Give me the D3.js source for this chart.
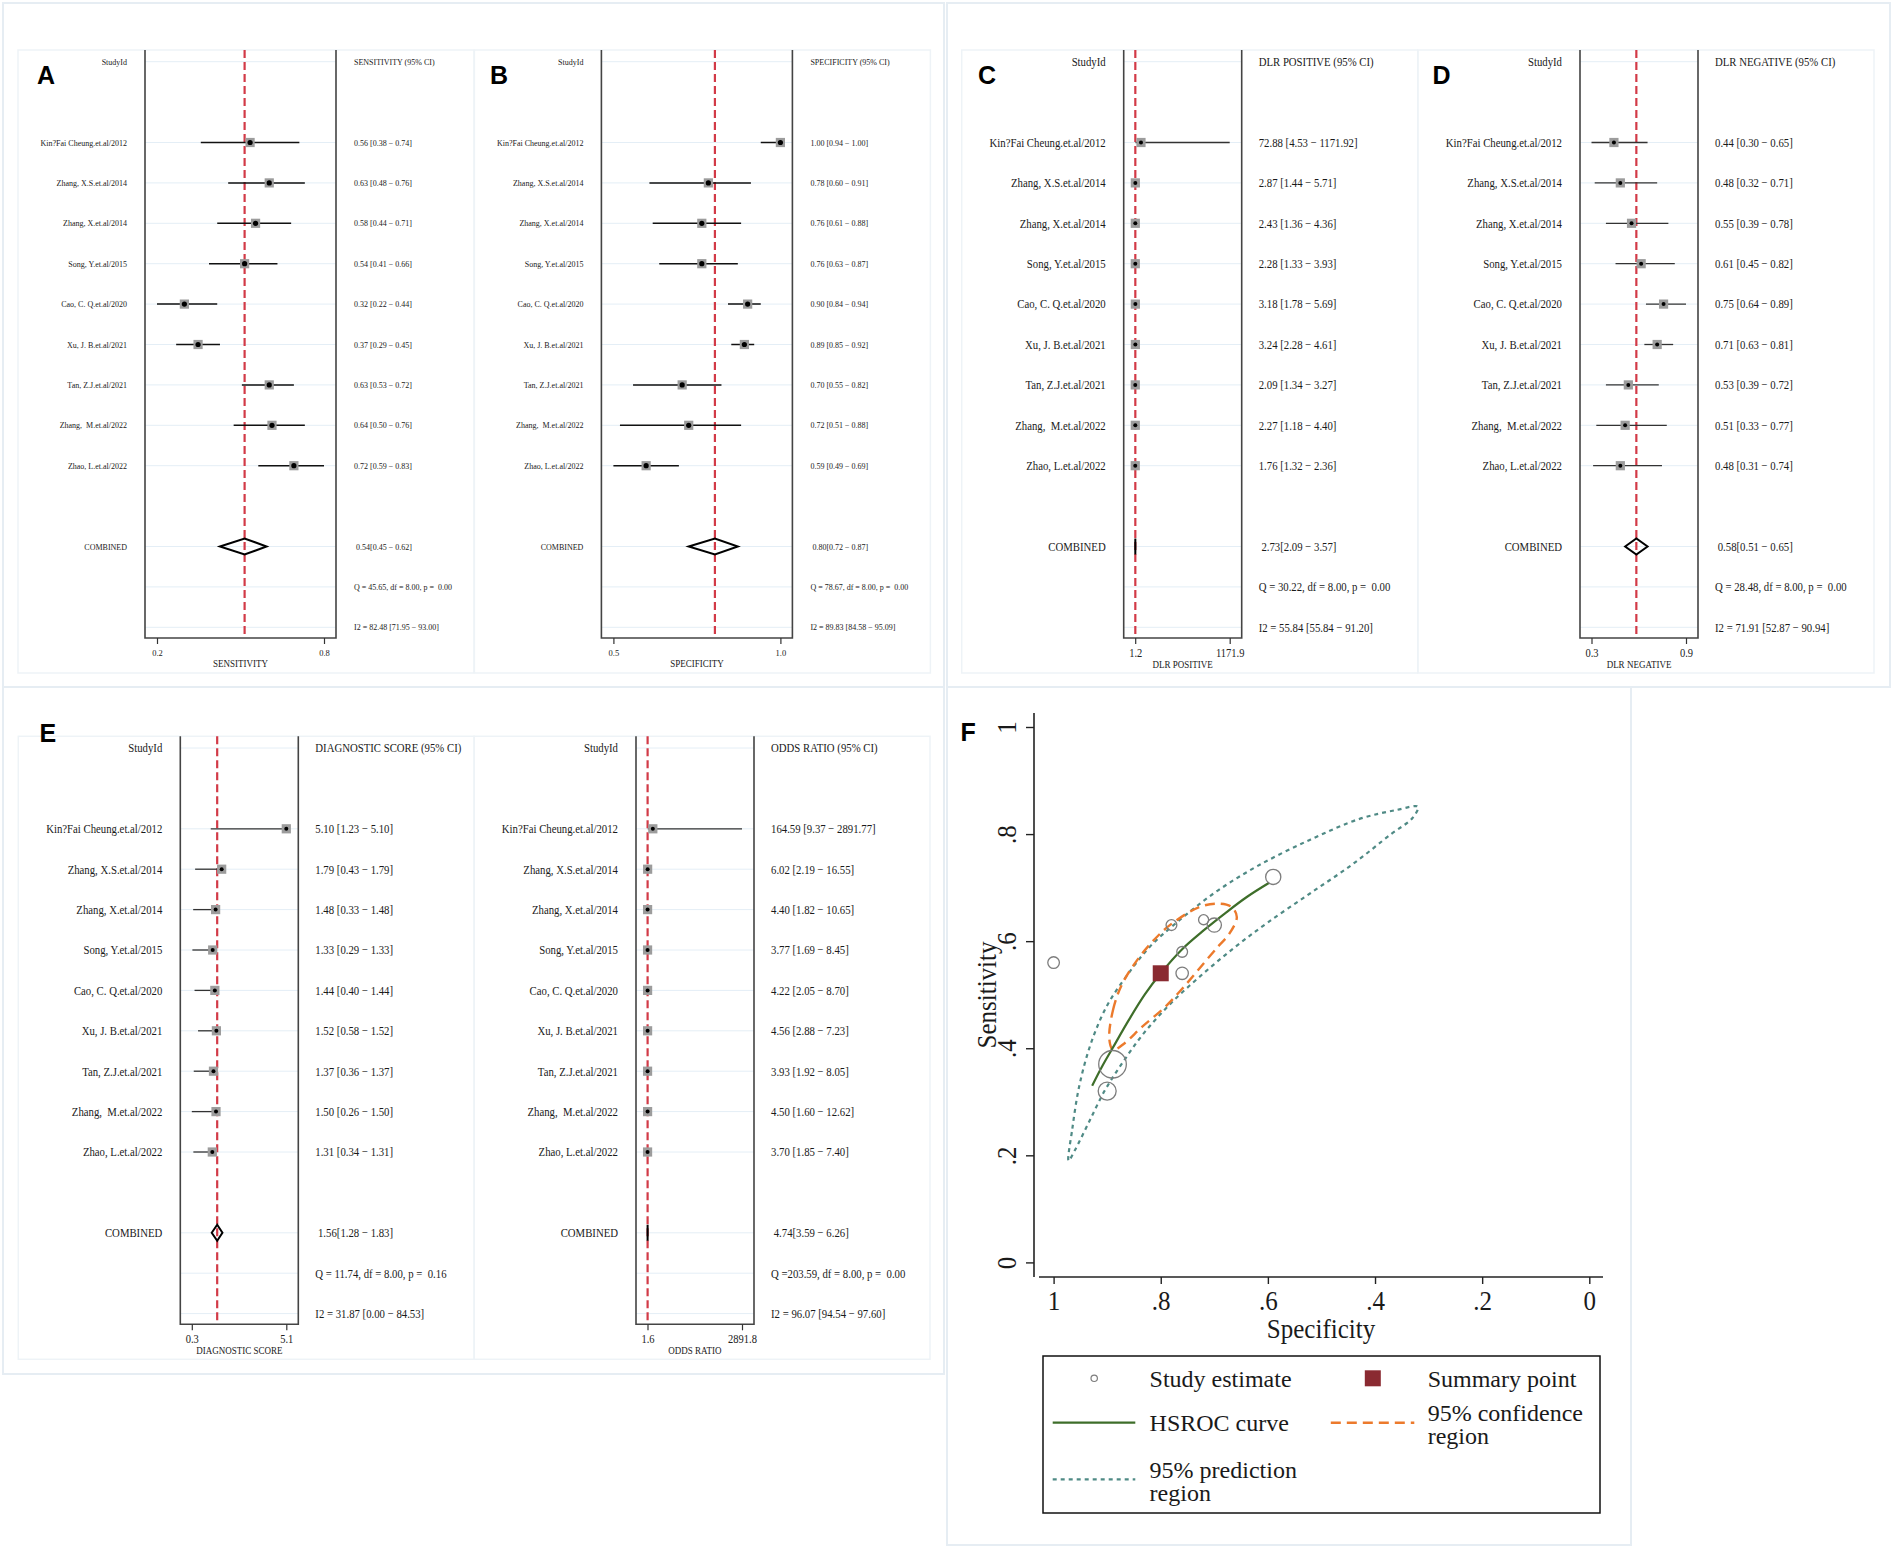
<!DOCTYPE html>
<html><head><meta charset="utf-8">
<script src="https://cdn.jsdelivr.net/npm/d3@7"></script>
<style>
body{margin:0;background:#fff;}
svg text{font-family:"Liberation Serif","Times New Roman",serif;white-space:pre;fill:#1a1a1a;}
svg text.plabel{font-family:"Liberation Sans",Arial,sans-serif;font-weight:bold;fill:#000;}
</style></head><body>
<svg id="c" width="1892" height="1549"></svg>
<script>
// ---------------- DATA ----------------
const studies = ["Kin?Fai Cheung.et.al/2012","Zhang, X.S.et.al/2014","Zhang, X.et.al/2014","Song, Y.et.al/2015","Cao, C. Q.et.al/2020","Xu, J. B.et.al/2021","Tan, Z.J.et.al/2021","Zhang,  M.et.al/2022","Zhao, L.et.al/2022"];

const sensEst = [0.56,0.63,0.58,0.54,0.32,0.37,0.63,0.64,0.72];
const sensLo  = [0.38,0.48,0.44,0.41,0.22,0.29,0.53,0.50,0.59];
const sensHi  = [0.74,0.76,0.71,0.66,0.44,0.45,0.72,0.76,0.83];
const sensComb = [0.54,0.45,0.62];
const sensStats = [45.65,8.00,0.00,82.48,71.95,93.00];

const specEst = [1.00,0.78,0.76,0.76,0.90,0.89,0.70,0.72,0.59];
const specLo  = [0.94,0.60,0.61,0.63,0.84,0.85,0.55,0.51,0.49];
const specHi  = [1.00,0.91,0.88,0.87,0.94,0.92,0.82,0.88,0.69];
const specComb = [0.80,0.72,0.87];
const specStats = [78.67,8.00,0.00,89.83,84.58,95.09];

const dlrpEst = [72.88,2.87,2.43,2.28,3.18,3.24,2.09,2.27,1.76];
const dlrpLo  = [4.53,1.44,1.36,1.33,1.78,2.28,1.34,1.18,1.32];
const dlrpHi  = [1171.92,5.71,4.36,3.93,5.69,4.61,3.27,4.40,2.36];
const dlrpComb = [2.73,2.09,3.57];
const dlrpStats = [30.22,8.00,0.00,55.84,55.84,91.20];

const dlrnEst = [0.44,0.48,0.55,0.61,0.75,0.71,0.53,0.51,0.48];
const dlrnLo  = [0.30,0.32,0.39,0.45,0.64,0.63,0.39,0.33,0.31];
const dlrnHi  = [0.65,0.71,0.78,0.82,0.89,0.81,0.72,0.77,0.74];
const dlrnComb = [0.58,0.51,0.65];
const dlrnStats = [28.48,8.00,0.00,71.91,52.87,90.94];

const dsEst = [5.10,1.79,1.48,1.33,1.44,1.52,1.37,1.50,1.31];
const dsLo  = [1.23,0.43,0.33,0.29,0.40,0.58,0.36,0.26,0.34];
const dsHi  = [5.10,1.79,1.48,1.33,1.44,1.52,1.37,1.50,1.31];
const dsComb = [1.56,1.28,1.83];
const dsStats = [11.74,8.00,0.16,31.87,0.00,84.53];

const orEst = [164.59,6.02,4.40,3.77,4.22,4.56,3.93,4.50,3.70];
const orLo  = [9.37,2.19,1.82,1.69,2.05,2.88,1.92,1.60,1.85];
const orHi  = [2891.77,16.55,10.65,8.45,8.70,7.23,8.05,12.62,7.40];
const orComb = [4.74,3.59,6.26];
const orStats = [203.59,8.00,0.00,96.07,94.54,97.60];

// SROC panel (specificity, sensitivity)
const studyWeight = [71,61,61,81,170,400,106,53,121];
const hsrocCurve = [[0.928,0.330],[0.91,0.365],[0.89,0.400],[0.86,0.452],[0.83,0.500],[0.80,0.540],[0.76,0.585],[0.72,0.620],[0.68,0.652],[0.64,0.682],[0.5975,0.709]];
const confRegion = [[0.896,0.417],[0.889,0.472],[0.8725,0.519],[0.843,0.566],[0.81,0.605],[0.779,0.633],[0.727,0.664],[0.693,0.670],[0.668,0.664],[0.658,0.645],[0.6725,0.613],[0.693,0.590],[0.727,0.550],[0.76,0.511],[0.793,0.476],[0.835,0.440],[0.868,0.409],[0.889,0.397]];
const predRegion = [[0.972,0.19],[0.965,0.25],[0.952,0.33],[0.93,0.41],[0.90,0.48],[0.86,0.54],[0.82,0.59],[0.77,0.635],[0.70,0.69],[0.62,0.74],[0.52,0.79],[0.43,0.828],[0.36,0.845],[0.32,0.851],[0.33,0.83],[0.37,0.80],[0.44,0.745],[0.52,0.69],[0.60,0.635],[0.66,0.59],[0.72,0.54],[0.78,0.485],[0.83,0.43],[0.87,0.375],[0.905,0.32],[0.935,0.26],[0.96,0.21]];
const srocTicks = [0,0.2,0.4,0.6,0.8,1];
const legendLabels = [["Study estimate"],["Summary point"],["HSROC curve"],["95% confidence","region"],["95% prediction","region"]];

// ---------------- DRAW ----------------
const svg = d3.select("#c");
svg.append("rect").attr("width",1892).attr("height",1549).attr("fill","#fff");
const fmt2 = d3.format(".2f"), fmt1 = d3.format(".1f");
const MINUS = "\u2212";

// outer panel frames
[[3,3,944,687],[947,3,1890,687],[3,687,944,1374],[947,687,1631,1545]].forEach(b=>{
  svg.append("rect").attr("x",b[0]).attr("y",b[1]).attr("width",b[2]-b[0]).attr("height",b[3]-b[1])
    .attr("fill","none").attr("stroke","#e6edf3").attr("stroke-width",2);
});

function forest(cfg){
  const g = svg.append("g").attr("class", cfg.type === "ab" ? "fab" : "fcde");
  const L = cfg.L, T = cfg.T, ab = cfg.type === "ab";
  const fs = ab ? 8 : 10.75, tfs = ab ? 8.5 : 10.5, ttl = 9;
  const labelX = L + (ab ? 109 : 144);
  const fl = L + (ab ? 127 : 162), fr = L + (ab ? 318 : 280);
  const vx = L + (ab ? 336 : 297);
  const r0 = L + (ab ? 139 : 173.5), r1 = L + (ab ? 306 : 268);
  const lo = d3.min(cfg.lo), hi = d3.max(cfg.hi);
  const x = d3.scaleLinear().domain([lo, hi]).range([r0, r1]);
  const rowY = i => T + 61.7 + i * 40.4;
  const fTop = T + 50, fBot = T + 638;

  g.append("rect").attr("x",L).attr("y",T+50).attr("width",456).attr("height",623)
    .attr("fill","none").attr("stroke","#eef3f7").attr("stroke-width",1.5);

  const gridRows = [0,2,3,4,5,6,7,8,9,10,12,13,14];
  g.selectAll("line.grid").data(gridRows).join("line")
    .attr("x1",fl).attr("x2",fr).attr("y1",rowY).attr("y2",rowY)
    .attr("stroke","#e4eef6").attr("stroke-width",1);

  // frame
  g.append("path").attr("d",`M${fl},${fTop}V${fBot}H${fr}V${fTop}`)
    .attr("fill","none").attr("stroke","#444").attr("stroke-width",1.6);

  // reference line
  g.append("line").attr("x1",x(cfg.comb[0])).attr("x2",x(cfg.comb[0])).attr("y1",fTop).attr("y2",fBot)
    .attr("stroke","#d23a47").attr("stroke-width",2.2).attr("stroke-dasharray","8,4");

  // axis
  const ax = g.append("g").attr("transform",`translate(0,${fBot})`)
    .call(d3.axisBottom(x).tickValues([lo,hi]).tickFormat(fmt1).tickSize(6).tickSizeOuter(0));
  ax.select(".domain").remove();
  ax.selectAll(".tick line").attr("stroke","#333").attr("stroke-width",1.2);
  ax.selectAll(".tick text").attr("y",14.5).attr("dy","0.35em")
    .style("font-size",tfs+"px").style("font-family",'"Liberation Serif",serif').style("fill","#222");
  g.append("text").attr("x",(fl+fr)/2).attr("y",fBot+(ab?25.5:26)).attr("dy","0.35em")
    .attr("text-anchor","middle").style("font-size",ttl+"px").text(cfg.title);

  // header
  g.append("text").attr("x",labelX).attr("y",rowY(0)).attr("dy","0.35em").attr("text-anchor","end")
    .style("font-size",fs+"px").text("StudyId");
  g.append("text").attr("x",vx).attr("y",rowY(0)).attr("dy","0.35em")
    .style("font-size",fs+"px").text(cfg.header);

  // study rows
  const rows = studies.map((s,i)=>({s, e:cfg.est[i], l:cfg.lo[i], h:cfg.hi[i], y:rowY(2+i)}));
  const rg = g.selectAll("g.row").data(rows).join("g");
  rg.append("text").attr("x",labelX).attr("y",d=>d.y).attr("dy","0.35em").attr("text-anchor","end")
    .style("font-size",fs+"px").text(d=>d.s);
  rg.append("line").attr("x1",d=>x(d.l)).attr("x2",d=>x(d.h)).attr("y1",d=>d.y).attr("y2",d=>d.y)
    .attr("stroke",ab?"#111":"#333").attr("stroke-width",ab?1.5:1.3);
  rg.append("rect").attr("x",d=>x(d.e)-4.6).attr("y",d=>d.y-4.6).attr("width",9.2).attr("height",9.2)
    .attr("fill","#9c9c9c");
  rg.append("circle").attr("cx",d=>x(d.e)).attr("cy",d=>d.y).attr("r",ab?2.6:2).attr("fill","#000");
  rg.append("text").attr("x",vx).attr("y",d=>d.y).attr("dy","0.35em").style("font-size",fs+"px")
    .text(d=>`${fmt2(d.e)} [${fmt2(d.l)} ${MINUS} ${fmt2(d.h)}]`);

  // combined
  const cy = rowY(12), c = cfg.comb;
  g.append("text").attr("x",labelX).attr("y",cy).attr("dy","0.35em").attr("text-anchor","end")
    .style("font-size",fs+"px").text("COMBINED");
  g.append("path").attr("d",`M${x(c[1])},${cy}L${x(c[0])},${cy-8}L${x(c[2])},${cy}L${x(c[0])},${cy+8}Z`)
    .attr("fill","none").attr("stroke","#000").attr("stroke-width",2).attr("stroke-linejoin","miter");
  g.append("text").attr("x",vx).attr("y",cy).attr("dy","0.35em").style("font-size",fs+"px")
    .text(` ${fmt2(c[0])}[${fmt2(c[1])} ${MINUS} ${fmt2(c[2])}]`);
  const s = cfg.stats;
  g.append("text").attr("x",vx).attr("y",rowY(13)).attr("dy","0.35em").style("font-size",fs+"px")
    .text(`Q =${fmt2(s[0]).padStart(6)}, df =${fmt2(s[1]).padStart(5)}, p =${fmt2(s[2]).padStart(6)}`);
  g.append("text").attr("x",vx).attr("y",rowY(14)).attr("dy","0.35em").style("font-size",fs+"px")
    .text(`I2 = ${fmt2(s[3])} [${fmt2(s[4])} ${MINUS} ${fmt2(s[5])}]`);

  if (cfg.letter) {
    svg.append("text").attr("class","plabel").attr("x",cfg.letter[1]).attr("y",cfg.letter[2])
      .style("font-size","25px").text(cfg.letter[0]);
  }
}

forest({L:18, T:0, type:"ab", est:sensEst, lo:sensLo, hi:sensHi, comb:sensComb, stats:sensStats,
  header:"SENSITIVITY (95% CI)", title:"SENSITIVITY", letter:["A",37,83.5]});
forest({L:474.4, T:0, type:"ab", est:specEst, lo:specLo, hi:specHi, comb:specComb, stats:specStats,
  header:"SPECIFICITY (95% CI)", title:"SPECIFICITY", letter:["B",490,83.5]});
forest({L:961.7, T:0, type:"cde", est:dlrpEst, lo:dlrpLo, hi:dlrpHi, comb:dlrpComb, stats:dlrpStats,
  header:"DLR POSITIVE (95% CI)", title:"DLR POSITIVE", letter:["C",978,83.5]});
forest({L:1418, T:0, type:"cde", est:dlrnEst, lo:dlrnLo, hi:dlrnHi, comb:dlrnComb, stats:dlrnStats,
  header:"DLR NEGATIVE (95% CI)", title:"DLR NEGATIVE", letter:["D",1432.5,83.5]});
forest({L:18.3, T:686.3, type:"cde", est:dsEst, lo:dsLo, hi:dsHi, comb:dsComb, stats:dsStats,
  header:"DIAGNOSTIC SCORE (95% CI)", title:"DIAGNOSTIC SCORE", letter:["E",39.5,742]});
forest({L:474, T:686.3, type:"cde", est:orEst, lo:orLo, hi:orHi, comb:orComb, stats:orStats,
  header:"ODDS RATIO (95% CI)", title:"ODDS RATIO", letter:null});

// ---------------- SROC panel F ----------------
const F = svg.append("g").attr("class","fsroc");
const fx = d3.scaleLinear().domain([1,0]).range([1053.6,1589.3]);
const fy = d3.scaleLinear().domain([0,1]).range([1262.4,727]);
const tickFmt = d => d === 0 ? "0" : d === 1 ? "1" : fmt1(d).replace(/^0/,"");

// axes lines
F.append("line").attr("x1",1034).attr("x2",1034).attr("y1",713).attr("y2",1277).attr("stroke","#222").attr("stroke-width",1.6);
F.append("line").attr("x1",1039).attr("x2",1603).attr("y1",1277).attr("y2",1277).attr("stroke","#222").attr("stroke-width",1.6);

const yax = F.append("g").attr("transform","translate(1034,0)")
  .call(d3.axisLeft(fy).tickValues(srocTicks).tickFormat(tickFmt).tickSize(8).tickSizeOuter(0));
yax.select(".domain").remove();
yax.selectAll(".tick line").attr("stroke","#222").attr("stroke-width",1.4);
yax.selectAll(".tick text").attr("x",null).attr("dy","0.35em").attr("text-anchor","middle")
  .attr("transform","translate(-28,0) rotate(-90)")
  .style("font-size","25px").style("font-family",'"Liberation Serif",serif').style("fill","#1a1a1a");

const xax = F.append("g").attr("transform","translate(0,1277)")
  .call(d3.axisBottom(fx).tickValues(srocTicks).tickFormat(tickFmt).tickSize(7).tickSizeOuter(0));
xax.select(".domain").remove();
xax.selectAll(".tick line").attr("stroke","#222").attr("stroke-width",1.4);
xax.selectAll(".tick text").attr("y",23).attr("dy","0.35em")
  .style("font-size","25px").style("font-family",'"Liberation Serif",serif').style("fill","#1a1a1a");

F.append("text").attr("x",1321).attr("y",1328).attr("dy","0.35em").attr("text-anchor","middle")
  .style("font-size","25px").text("Specificity");
F.append("text").attr("transform","translate(986,995) rotate(-90)").attr("dy","0.35em").attr("text-anchor","middle")
  .style("font-size","25px").text("Sensitivity");
svg.append("text").attr("class","plabel").attr("x",960.5).attr("y",741).style("font-size","25px").text("F");

// regions and curve
const ptLine = d3.line().x(d=>fx(d[0])).y(d=>fy(d[1]));
F.append("path").attr("d",ptLine.curve(d3.curveCatmullRomClosed.alpha(0.5))(predRegion))
  .attr("fill","none").attr("stroke","#4f8a85").attr("stroke-width",2.2).attr("stroke-dasharray","4,4");
F.append("path").attr("d",ptLine.curve(d3.curveCatmullRomClosed.alpha(0.5))(confRegion))
  .attr("fill","none").attr("stroke","#ec7a2c").attr("stroke-width",2.4).attr("stroke-dasharray","10,6");
F.append("path").attr("d",ptLine.curve(d3.curveCatmullRom.alpha(0.5))(hsrocCurve))
  .attr("fill","none").attr("stroke","#3e6e2a").attr("stroke-width",2.2);

// study circles
const rScale = d3.scaleSqrt().domain([0, d3.max(studyWeight)]).range([0, 13.8]);
F.selectAll("circle.st").data(studies.map((s,i)=>({sp:specEst[i], se:sensEst[i], w:studyWeight[i]})))
  .join("circle").attr("cx",d=>fx(d.sp)).attr("cy",d=>fy(d.se)).attr("r",d=>rScale(d.w))
  .attr("fill","none").attr("stroke","#7d7d7d").attr("stroke-width",1.3);
// summary point
F.append("rect").attr("x",fx(specComb[0])-8).attr("y",fy(sensComb[0])-8).attr("width",16).attr("height",16)
  .attr("fill","#8a2a31");

// legend
const lg = svg.append("g");
lg.append("rect").attr("x",1043).attr("y",1356).attr("width",557).attr("height",157)
  .attr("fill","#fff").attr("stroke","#111").attr("stroke-width",1.5);
lg.append("circle").attr("cx",1094.2).attr("cy",1378.3).attr("r",3.2).attr("fill","none").attr("stroke","#7d7d7d").attr("stroke-width",1.2);
lg.append("rect").attr("x",1364.8).attr("y",1370.3).attr("width",16).attr("height",16).attr("fill","#8a2a31");
lg.append("line").attr("x1",1052.7).attr("x2",1135.3).attr("y1",1422.7).attr("y2",1422.7).attr("stroke","#3e6e2a").attr("stroke-width",2.2);
lg.append("line").attr("x1",1330.8).attr("x2",1414.3).attr("y1",1422.7).attr("y2",1422.7).attr("stroke","#ec7a2c").attr("stroke-width",2.4).attr("stroke-dasharray","10,6");
lg.append("line").attr("x1",1052.7).attr("x2",1135.3).attr("y1",1479.3).attr("y2",1479.3).attr("stroke","#4f8a85").attr("stroke-width",2.2).attr("stroke-dasharray","4,4");
const legPos = [[1149.6,1378.3],[1427.7,1378.3],[1149.6,1422.7],[1427.7,1412.3],[1149.6,1469.3]];
const lt = lg.selectAll("text.leg").data(legendLabels).join("text").attr("class","leg")
  .attr("x",(d,i)=>legPos[i][0]).attr("y",(d,i)=>legPos[i][1]).attr("dy","0.35em")
  .style("font-size","24px");
lt.each(function(d,i){
  const t = d3.select(this);
  d.forEach((line,j)=>{
    t.append("tspan").attr("x",legPos[i][0]).attr("dy", j===0 ? "0.35em" : "23.6px").text(line);
  });
});
lt.attr("dy",null);

// The reference figure's text is taller than it is wide: keep widths, enlarge glyph height.
function stretch(sel, k){
  sel.each(function(){
    const w = this.getComputedTextLength();
    const fsz = parseFloat(getComputedStyle(this).fontSize);
    if (!w) return;
    this.style.fontSize = (fsz*k) + "px";
    this.setAttribute("textLength", w);
    this.setAttribute("lengthAdjust", "spacingAndGlyphs");
  });
}
stretch(svg.selectAll("g.fab text"), 1.08);
stretch(svg.selectAll("g.fcde text"), 1.15);
stretch(svg.selectAll("g.fsroc text"), 1.1);
</script>
</body></html>
